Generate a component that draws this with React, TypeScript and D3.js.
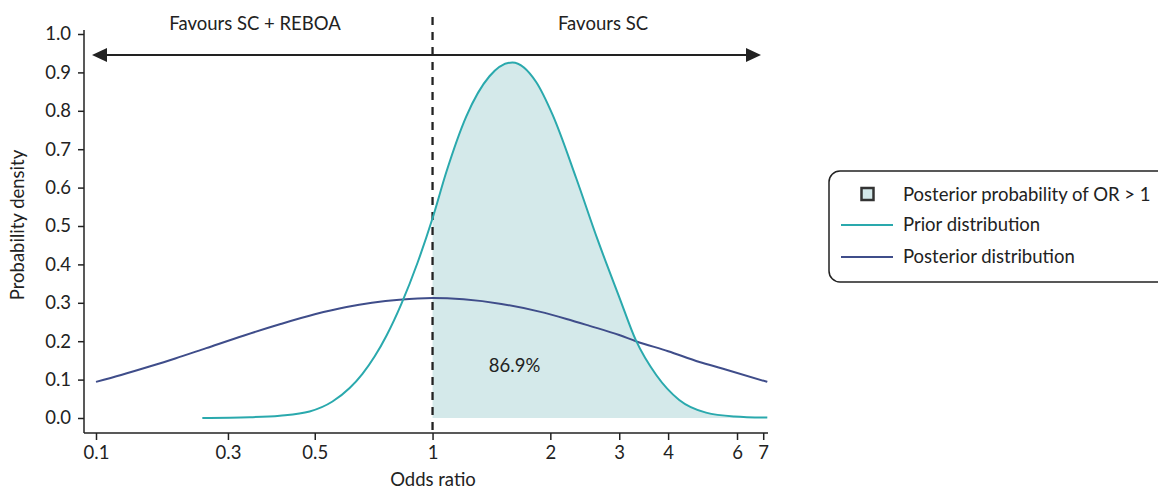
import React, { useEffect, useRef } from 'react';
import * as d3 from 'd3';

// Prior distribution (odds ratio, density)
const priorOR = [0.258, 0.341, 0.407, 0.485, 0.555, 0.614, 0.662, 0.711, 0.763, 0.833, 0.916, 1.0, 1.084, 1.219, 1.398, 1.6, 1.84, 2.026, 2.328, 2.64, 3.0, 3.31, 3.73, 4.27, 5.0, 5.91, 7.17];
const priorDensity = [0.0, 0.002, 0.006, 0.017, 0.043, 0.078, 0.115, 0.16, 0.215, 0.298, 0.405, 0.52, 0.64, 0.785, 0.89, 0.926, 0.875, 0.79, 0.625, 0.465, 0.315, 0.202, 0.112, 0.047, 0.014, 0.004, 0.001];

// Posterior distribution
const postOR = [0.138, 0.16, 0.189, 0.22, 0.264, 0.33, 0.407, 0.5, 0.603, 0.7, 0.823, 1.0, 1.2, 1.5, 1.876, 2.2, 2.52, 3.0, 3.31, 4.0, 4.81, 5.5, 7.17];
const postDensity = [0.094, 0.112, 0.134, 0.155, 0.182, 0.215, 0.244, 0.27, 0.289, 0.3, 0.308, 0.3125, 0.309, 0.297, 0.277, 0.258, 0.24, 0.216, 0.2, 0.174, 0.146, 0.129, 0.094];

const xTicks = [0.1, 0.3, 0.5, 1, 2, 3, 4, 6, 7];
const yTicks = [0, 0.1, 0.2, 0.3, 0.4, 0.5, 0.6, 0.7, 0.8, 0.9, 1.0];
const probLabel = '86.9%';
const legendItems = ['Posterior probability of OR > 1', 'Prior distribution', 'Posterior distribution'];

const TEAL = '#2aa9ad';
const SHADE = '#d4e9ea';
const NAVY = '#3f4d8a';
const INK = '#222';
const FS = 18.5;

export default function App() {
  const xAxisRef = useRef<SVGGElement>(null);
  const yAxisRef = useRef<SVGGElement>(null);

  const x = d3.scaleLog().domain([0.138, 7.2]).range([96, 768]).clamp(true);
  const y = d3.scaleLinear().domain([0, 1]).range([418, 34]);

  const prior = priorOR.map((o, i) => ({ o, d: priorDensity[i] }));
  const post = postOR.map((o, i) => ({ o, d: postDensity[i] }));

  const line = d3
    .line<{ o: number; d: number }>()
    .x(p => x(p.o))
    .y(p => y(p.d))
    .curve(d3.curveMonotoneX);

  const area = d3
    .area<{ o: number; d: number }>()
    .x(p => x(p.o))
    .y0(y(0))
    .y1(p => y(p.d))
    .curve(d3.curveMonotoneX);

  useEffect(() => {
    if (xAxisRef.current) {
      const g = d3.select(xAxisRef.current);
      g.selectAll('*').remove();
      g.call(d3.axisBottom(x).tickValues(xTicks).tickFormat(d => String(d)).tickSize(7).tickSizeOuter(0));
      g.select('.domain').remove();
      g.selectAll('.tick line').attr('stroke', INK).attr('stroke-width', 1.5);
      g.selectAll('.tick text').attr('font-size', FS).attr('fill', INK).attr('y', 13)
        .attr('font-family', 'Lato, sans-serif');
    }
    if (yAxisRef.current) {
      const g = d3.select(yAxisRef.current);
      g.selectAll('*').remove();
      g.call(d3.axisLeft(y).tickValues(yTicks).tickFormat(d3.format('.1f')).tickSize(6).tickSizeOuter(0));
      g.select('.domain').remove();
      g.selectAll('.tick line').attr('stroke', INK).attr('stroke-width', 1.5);
      g.selectAll('.tick text').attr('font-size', FS).attr('fill', INK).attr('x', -13)
        .attr('font-family', 'Lato, sans-serif');
    }
  }, []);

  const shaded = prior.filter(p => p.o >= 1);
  const arrowY = 55;

  return (
    <div style={{ position: 'absolute', left: 0, top: 0 }}>
      <svg width={1158} height={489} style={{ display: 'block', fontFamily: 'Lato, sans-serif' }}>
        <rect width={1158} height={489} fill="#fff" />

        {/* shaded posterior probability region */}
        <path d={area(shaded) || ''} fill={SHADE} />

        {/* axes */}
        <line x1={84} x2={84} y1={30} y2={433} stroke={INK} strokeWidth={1.5} />
        <line x1={84} x2={768} y1={433} y2={433} stroke={INK} strokeWidth={1.5} />
        <g ref={xAxisRef} transform="translate(0,433)" />
        <g ref={yAxisRef} transform="translate(84,0)" />

        {/* reference line at OR = 1 */}
        <line x1={x(1)} x2={x(1)} y1={17} y2={433} stroke={INK} strokeWidth={2.3} strokeDasharray="8,7" />

        {/* curves */}
        <path d={line(post) || ''} fill="none" stroke={NAVY} strokeWidth={2} />
        <path d={line(prior) || ''} fill="none" stroke={TEAL} strokeWidth={2} />

        {/* favours arrow */}
        <line x1={100} x2={752} y1={arrowY} y2={arrowY} stroke={INK} strokeWidth={2} />
        <path d={`M${92},${arrowY} L${107},${arrowY - 7} L${107},${arrowY + 7} Z`} fill={INK} />
        <path d={`M${761},${arrowY} L${746},${arrowY - 7} L${746},${arrowY + 7} Z`} fill={INK} />
        <text x={255} y={30} textAnchor="middle" fontSize={FS} fill={INK}>Favours SC + REBOA</text>
        <text x={603} y={30} textAnchor="middle" fontSize={FS} fill={INK}>Favours SC</text>

        <text x={x(1.62)} y={y(0.12)} textAnchor="middle" fontSize={FS} fill={INK}>{probLabel}</text>

        {/* axis titles */}
        <text x={433} y={486} textAnchor="middle" fontSize={FS} fill={INK}>Odds ratio</text>
        <text transform="translate(24,225) rotate(-90)" textAnchor="middle" fontSize={FS} fill={INK}>Probability density</text>

        {/* legend */}
        <rect x={829} y={171} width={345} height={111} rx={11} fill="#fff" stroke={INK} strokeWidth={1.5} />
        <rect x={861.5} y={188} width={12} height={12} fill={SHADE} stroke="#333" strokeWidth={2.5} />
        <line x1={841} x2={893} y1={225} y2={225} stroke={TEAL} strokeWidth={2} />
        <line x1={841} x2={893} y1={257} y2={257} stroke={NAVY} strokeWidth={2} />
        {legendItems.map((t, i) => (
          <text key={t} x={903} y={[195, 225, 257][i]} dy="0.35em" fontSize={FS} fill={INK}>{t}</text>
        ))}
      </svg>
    </div>
  );
}
